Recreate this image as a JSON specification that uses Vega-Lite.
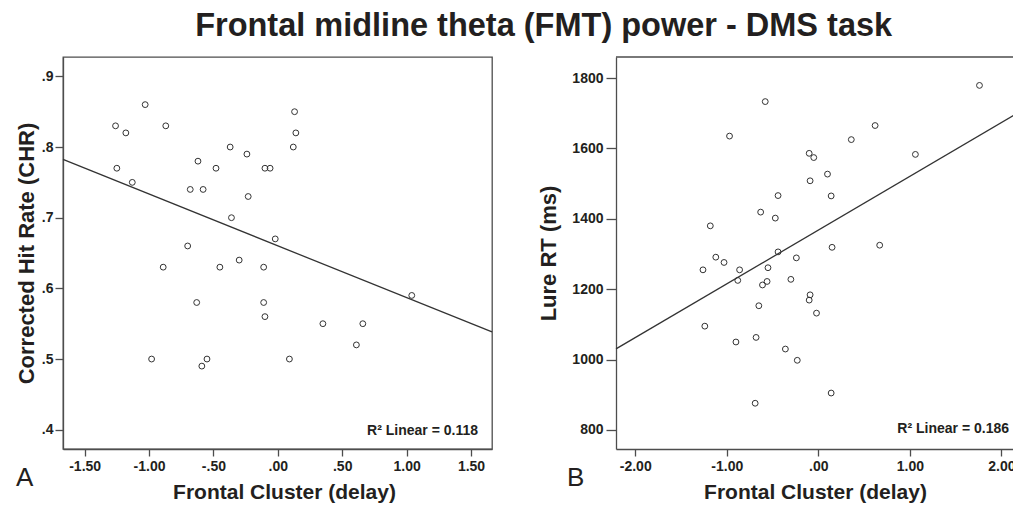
{
  "$schema": "https://vega.github.io/schema/vega-lite/v6.json",
  "background": "white",
  "padding": {"left": 14, "top": 9, "right": 0, "bottom": 0},
  "title": {
    "text": "Frontal midline theta (FMT) power - DMS task",
    "font": "Liberation Sans",
    "fontSize": 32.5,
    "fontWeight": "bold",
    "color": "#231f20",
    "anchor": "middle",
    "dx": 28,
    "offset": 14
  },
  "datasets": {
    "panelA": [
      {"x": -1.03, "chr": 0.86}, {"x": -1.26, "chr": 0.83}, {"x": -1.18, "chr": 0.82}, {"x": -0.87, "chr": 0.83},
      {"x": -1.25, "chr": 0.77}, {"x": -1.13, "chr": 0.75}, {"x": 0.13, "chr": 0.85}, {"x": 0.14, "chr": 0.82},
      {"x": 0.12, "chr": 0.80}, {"x": -0.37, "chr": 0.80}, {"x": -0.24, "chr": 0.79}, {"x": -0.62, "chr": 0.78},
      {"x": -0.48, "chr": 0.77}, {"x": -0.10, "chr": 0.77}, {"x": -0.06, "chr": 0.77}, {"x": -0.68, "chr": 0.74},
      {"x": -0.58, "chr": 0.74}, {"x": -0.23, "chr": 0.73}, {"x": -0.36, "chr": 0.70}, {"x": -0.02, "chr": 0.67},
      {"x": -0.70, "chr": 0.66}, {"x": -0.89, "chr": 0.63}, {"x": -0.45, "chr": 0.63}, {"x": -0.30, "chr": 0.64},
      {"x": -0.11, "chr": 0.63}, {"x": -0.63, "chr": 0.58}, {"x": -0.11, "chr": 0.58}, {"x": -0.10, "chr": 0.56},
      {"x": 0.35, "chr": 0.55}, {"x": 0.66, "chr": 0.55}, {"x": 0.61, "chr": 0.52}, {"x": 1.04, "chr": 0.59},
      {"x": -0.98, "chr": 0.50}, {"x": -0.55, "chr": 0.50}, {"x": -0.59, "chr": 0.49}, {"x": 0.09, "chr": 0.50}
    ],
    "panelB": [
      {"x": 1.76, "rt": 1779}, {"x": -0.58, "rt": 1733}, {"x": -0.97, "rt": 1635}, {"x": 0.62, "rt": 1665},
      {"x": 0.36, "rt": 1625}, {"x": 1.06, "rt": 1583}, {"x": -0.10, "rt": 1586}, {"x": -0.05, "rt": 1574},
      {"x": 0.10, "rt": 1527}, {"x": -0.09, "rt": 1508}, {"x": -0.44, "rt": 1466}, {"x": 0.14, "rt": 1465},
      {"x": -0.63, "rt": 1419}, {"x": -0.47, "rt": 1402}, {"x": -1.18, "rt": 1380}, {"x": 0.67, "rt": 1325},
      {"x": 0.15, "rt": 1319}, {"x": -0.44, "rt": 1306}, {"x": -1.12, "rt": 1291}, {"x": -1.03, "rt": 1276},
      {"x": -0.24, "rt": 1289}, {"x": -1.26, "rt": 1255}, {"x": -0.86, "rt": 1255}, {"x": -0.55, "rt": 1261},
      {"x": -0.88, "rt": 1225}, {"x": -0.56, "rt": 1222}, {"x": -0.61, "rt": 1212}, {"x": -0.30, "rt": 1228},
      {"x": -0.09, "rt": 1184}, {"x": -0.10, "rt": 1169}, {"x": -0.65, "rt": 1153}, {"x": -0.02, "rt": 1132},
      {"x": -1.24, "rt": 1095}, {"x": -0.90, "rt": 1050}, {"x": -0.68, "rt": 1063}, {"x": -0.36, "rt": 1030},
      {"x": -0.23, "rt": 998}, {"x": 0.14, "rt": 905}, {"x": -0.69, "rt": 876}
    ]
  },
  "spacing": 124,
  "bounds": "flush",
  "config": {
    "font": "Liberation Sans",
    "axis": {
      "grid": false,
      "labelFont": "Liberation Sans",
      "labelFontWeight": "bold",
      "labelFontSize": 14,
      "labelColor": "#231f20",
      "titleFont": "Liberation Sans",
      "titleFontWeight": "bold",
      "titleFontSize": 21,
      "titleColor": "#231f20",
      "domainColor": "#4d4d4d",
      "domainWidth": 1.3,
      "tickColor": "#4d4d4d",
      "tickWidth": 1.3
    },
    "axisX": {"tickSize": 7, "labelPadding": 3, "titlePadding": 8},
    "axisY": {"titleFontSize": 22},
    "view": {"stroke": "#4d4d4d", "strokeWidth": 1.3}
  },
  "hconcat": [
    {
      "width": 429,
      "height": 392,
      "layer": [
        {
          "data": {"name": "panelA"},
          "mark": {"type": "point", "filled": false, "size": 34, "stroke": "#333333", "strokeWidth": 1, "opacity": 1},
          "encoding": {
            "x": {
              "field": "x", "type": "quantitative",
              "scale": {"domain": [-1.668, 1.663], "nice": false, "zero": false},
              "axis": {
                "values": [-1.5, -1, -0.5, 0, 0.5, 1, 1.5],
                "labelExpr": "replace(replace(format(datum.value, '.2f'), '\u2212', '-'), '0.', '.')",
                "title": "Frontal Cluster (delay)",
                "titleX": 221
              }
            },
            "y": {
              "field": "chr", "type": "quantitative",
              "scale": {"domain": [0.3727, 0.9274], "nice": false, "zero": false},
              "axis": {
                "values": [0.4, 0.5, 0.6, 0.7, 0.8, 0.9],
                "labelExpr": "replace(format(datum.value, '.1f'), '0.', '.')",
                "title": "Corrected Hit Rate (CHR)",
                "tickSize": 8, "labelPadding": 2, "titlePadding": 3
              }
            }
          }
        },
        {
          "data": {"name": "panelA"},
          "transform": [{"regression": "chr", "on": "x", "extent": [-1.668, 1.663]}],
          "mark": {"type": "line", "color": "#333333", "strokeWidth": 1.3},
          "encoding": {
            "x": {"field": "x", "type": "quantitative"},
            "y": {"field": "chr", "type": "quantitative"}
          }
        },
        {
          "data": {"values": [{"label": "R² Linear = 0.118"}]},
          "mark": {"type": "text", "font": "Liberation Sans", "fontSize": 14, "fontWeight": "bold", "color": "#231f20", "align": "right", "baseline": "alphabetic", "dx": -14, "dy": -14},
          "encoding": {
            "x": {"datum": 1.663},
            "y": {"datum": 0.3727},
            "text": {"field": "label"}
          }
        },
        {
          "data": {"values": [{"label": "A"}]},
          "mark": {"type": "text", "font": "Liberation Sans", "fontSize": 26, "fontWeight": "normal", "color": "#231f20", "align": "left", "baseline": "alphabetic", "dx": -47, "dy": 37.4},
          "encoding": {
            "x": {"datum": -1.668},
            "y": {"datum": 0.3727},
            "text": {"field": "label"}
          }
        }
      ]
    },
    {
      "width": 398,
      "height": 392,
      "view": {"stroke": null},
      "layer": [
        {
          "data": {"name": "panelB"},
          "mark": {"type": "point", "filled": false, "size": 34, "stroke": "#333333", "strokeWidth": 1, "opacity": 1},
          "encoding": {
            "x": {
              "field": "x", "type": "quantitative",
              "scale": {"domain": [-2.21, 2.137], "nice": false, "zero": false},
              "axis": {
                "values": [-2, -1, 0, 1, 2],
                "labelExpr": "replace(replace(format(datum.value, '.2f'), '\u2212', '-'), '0.', '.')",
                "title": "Frontal Cluster (delay)"
              }
            },
            "y": {
              "field": "rt", "type": "quantitative",
              "scale": {"domain": [746, 1859.7], "nice": false, "zero": false},
              "axis": {
                "values": [800, 1000, 1200, 1400, 1600, 1800],
                "format": "d",
                "title": "Lure RT (ms)",
                "tickSize": 10, "labelPadding": 3, "titlePadding": 11
              }
            }
          }
        },
        {
          "data": {"name": "panelB"},
          "transform": [{"regression": "rt", "on": "x", "extent": [-2.21, 2.137]}],
          "mark": {"type": "line", "color": "#333333", "strokeWidth": 1.3},
          "encoding": {
            "x": {"field": "x", "type": "quantitative"},
            "y": {"field": "rt", "type": "quantitative"}
          }
        },
        {
          "data": {"values": [{"edge": 1859.7}]},
          "mark": {"type": "rule", "color": "#4d4d4d", "strokeWidth": 1.3},
          "encoding": {
            "y": {"field": "edge", "type": "quantitative"}
          }
        },
        {
          "data": {"values": [{"label": "R² Linear = 0.186"}]},
          "mark": {"type": "text", "font": "Liberation Sans", "fontSize": 14, "fontWeight": "bold", "color": "#231f20", "align": "right", "baseline": "alphabetic", "dx": -5, "dy": -16},
          "encoding": {
            "x": {"datum": 2.137},
            "y": {"datum": 746},
            "text": {"field": "label"}
          }
        },
        {
          "data": {"values": [{"label": "B"}]},
          "mark": {"type": "text", "font": "Liberation Sans", "fontSize": 26, "fontWeight": "normal", "color": "#231f20", "align": "left", "baseline": "alphabetic", "dx": -49, "dy": 37.4},
          "encoding": {
            "x": {"datum": -2.21},
            "y": {"datum": 746},
            "text": {"field": "label"}
          }
        }
      ]
    }
  ]
}
